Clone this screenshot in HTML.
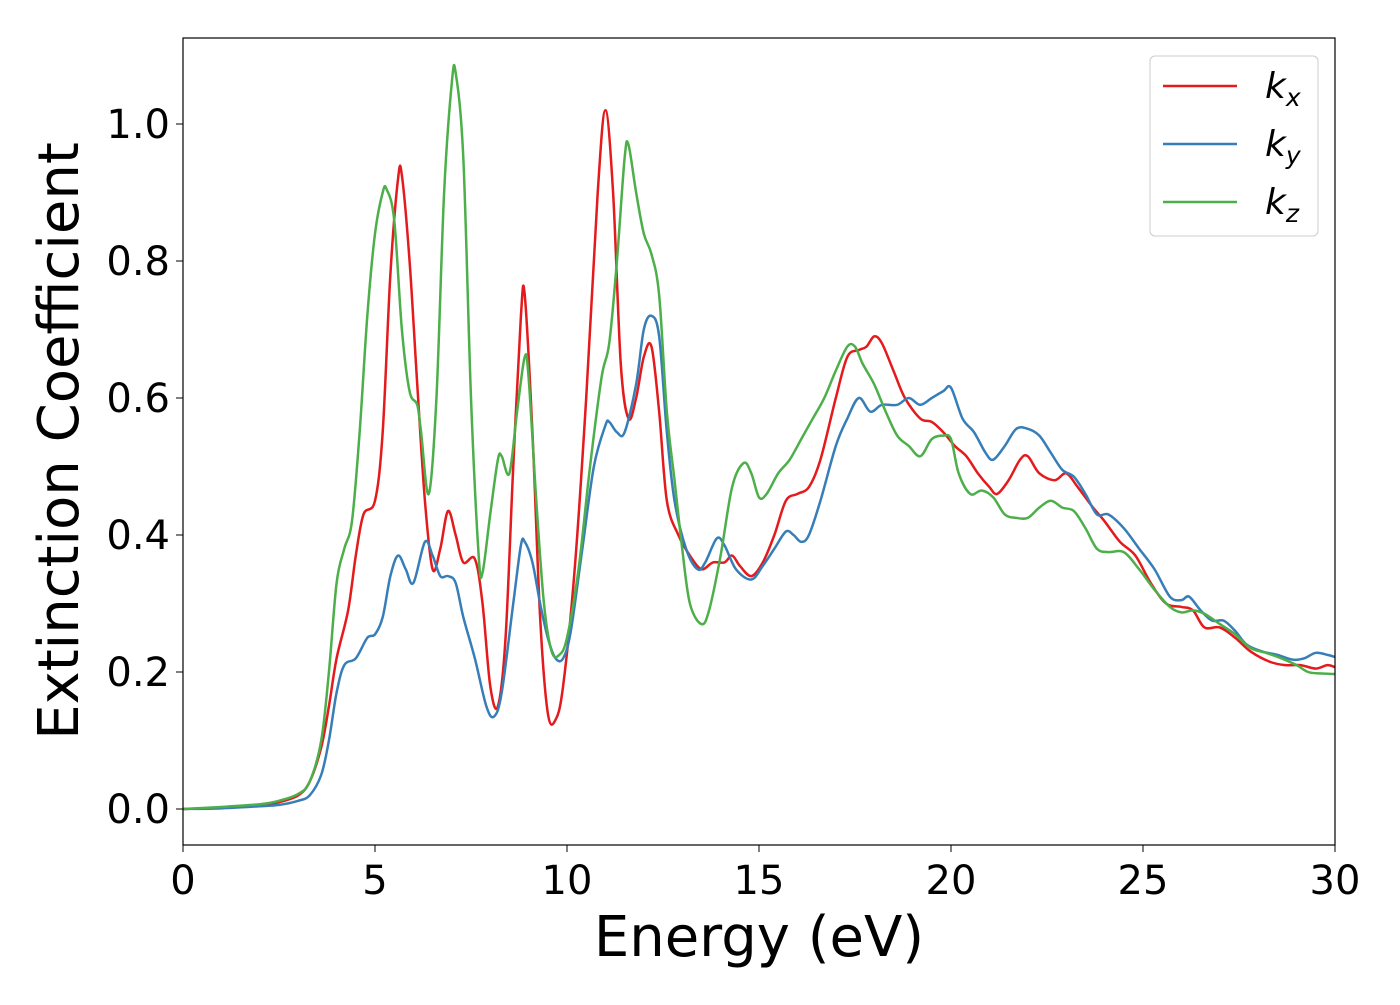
<!DOCTYPE html>
<html><head><meta charset="utf-8"><style>
body{margin:0;background:#fff;}
svg text{font-family:"DejaVu Sans","Liberation Sans",sans-serif;}
</style></head><body>
<svg id="chart" width="1400" height="1000" viewBox="0 0 1400 1000" xmlns="http://www.w3.org/2000/svg">
<g id="series"></g>
<rect x="183" y="38" width="1152" height="807" fill="none" stroke="#000" stroke-width="1.2"/>
<g id="axes"></g>
<text x="759" y="956" font-size="56" text-anchor="middle">Energy (eV)</text>
<text transform="translate(78,441) rotate(-90)" font-size="56" text-anchor="middle">Extinction Coefficient</text>
<g>
<rect x="1150" y="56" width="168" height="180" rx="5" fill="#fff" fill-opacity="0.8" stroke="#ccc"/>
<line x1="1163" x2="1237" y1="86" y2="86" stroke="#e41a1c" stroke-width="2.5"/>
<line x1="1163" x2="1237" y1="144" y2="144" stroke="#377eb8" stroke-width="2.5"/>
<line x1="1163" x2="1237" y1="202" y2="202" stroke="#4daf4a" stroke-width="2.5"/>
<text x="1265" y="98" font-size="36" font-style="italic">k<tspan font-size="25" dy="8">x</tspan></text>
<text x="1265" y="156" font-size="36" font-style="italic">k<tspan font-size="25" dy="8">y</tspan></text>
<text x="1265" y="214" font-size="36" font-style="italic">k<tspan font-size="25" dy="8">z</tspan></text>
</g>
</svg>
<script>
const xTicks=[0,5,10,15,20,25,30];
const yTicks=[0.0,0.2,0.4,0.6,0.8,1.0];
const yTickLabels=["0.0","0.2","0.4","0.6","0.8","1.0"];
const kxE=[0,1,2,2.5,3,3.3,3.6,3.8,4.0,4.3,4.5,4.7,5.0,5.2,5.4,5.6,5.7,5.9,6.1,6.3,6.5,6.7,6.9,7.1,7.3,7.6,7.8,8.0,8.2,8.4,8.6,8.8,8.9,9.1,9.3,9.5,9.7,9.9,10.2,10.5,10.8,11.0,11.2,11.4,11.6,11.8,12.0,12.2,12.4,12.6,12.9,13.2,13.5,13.8,14.1,14.3,14.5,14.8,15.1,15.4,15.7,16.0,16.3,16.6,17.0,17.3,17.6,17.8,18.0,18.2,18.5,18.8,19.2,19.5,19.8,20.1,20.4,20.7,21.0,21.2,21.5,21.8,22.0,22.3,22.7,23.0,23.3,23.7,24.0,24.4,24.8,25.2,25.6,26.0,26.3,26.6,27.0,27.4,27.8,28.3,28.7,29.1,29.5,29.8,30];
const kxV=[0,0.002,0.006,0.01,0.02,0.04,0.09,0.15,0.22,0.29,0.37,0.43,0.45,0.55,0.78,0.92,0.925,0.8,0.62,0.45,0.35,0.38,0.435,0.40,0.36,0.365,0.30,0.18,0.15,0.25,0.50,0.72,0.75,0.55,0.28,0.14,0.13,0.18,0.35,0.6,0.9,1.02,0.9,0.65,0.57,0.6,0.66,0.675,0.58,0.45,0.4,0.37,0.35,0.36,0.36,0.37,0.355,0.34,0.36,0.40,0.45,0.46,0.47,0.51,0.6,0.66,0.67,0.675,0.69,0.68,0.64,0.6,0.57,0.565,0.55,0.53,0.515,0.49,0.47,0.46,0.48,0.51,0.515,0.49,0.48,0.49,0.47,0.44,0.42,0.39,0.37,0.33,0.3,0.295,0.29,0.265,0.265,0.25,0.23,0.215,0.21,0.21,0.205,0.21,0.207];
const kyE=[0,1,2,2.5,3,3.3,3.6,3.8,4.0,4.2,4.5,4.8,5.0,5.2,5.4,5.6,5.8,6.0,6.3,6.5,6.7,6.9,7.1,7.3,7.6,7.9,8.1,8.3,8.6,8.8,8.9,9.1,9.3,9.5,9.7,9.9,10.1,10.4,10.7,11.0,11.1,11.3,11.5,11.8,12.0,12.2,12.4,12.6,12.8,13.1,13.4,13.6,13.9,14.1,14.4,14.8,15.1,15.4,15.7,15.9,16.1,16.3,16.6,17.0,17.3,17.6,17.9,18.2,18.6,18.9,19.2,19.5,19.8,20.0,20.3,20.6,20.9,21.1,21.4,21.7,22.0,22.3,22.6,22.9,23.2,23.5,23.8,24.1,24.5,24.9,25.3,25.7,26.0,26.2,26.5,26.8,27.1,27.4,27.7,28.1,28.5,28.9,29.2,29.5,29.8,30];
const kyV=[0,0.001,0.004,0.006,0.012,0.02,0.05,0.1,0.17,0.21,0.22,0.25,0.255,0.28,0.34,0.37,0.35,0.33,0.39,0.37,0.34,0.34,0.33,0.28,0.22,0.15,0.135,0.17,0.3,0.385,0.39,0.36,0.3,0.25,0.22,0.22,0.26,0.38,0.5,0.56,0.565,0.55,0.55,0.62,0.7,0.72,0.69,0.55,0.45,0.38,0.35,0.36,0.395,0.385,0.35,0.335,0.355,0.38,0.405,0.40,0.39,0.4,0.45,0.53,0.57,0.6,0.58,0.59,0.59,0.6,0.59,0.6,0.61,0.615,0.57,0.55,0.52,0.51,0.53,0.555,0.555,0.545,0.52,0.495,0.485,0.46,0.43,0.43,0.41,0.38,0.35,0.31,0.305,0.31,0.29,0.275,0.275,0.26,0.24,0.23,0.225,0.218,0.22,0.228,0.225,0.222];
const kzE=[0,1,2,2.5,3,3.3,3.6,3.8,4.0,4.2,4.4,4.6,4.8,5.0,5.2,5.3,5.5,5.7,5.9,6.1,6.2,6.4,6.6,6.8,7.0,7.1,7.3,7.5,7.7,7.8,8.0,8.2,8.3,8.5,8.7,8.9,9.0,9.2,9.4,9.6,9.8,10.0,10.3,10.6,10.9,11.1,11.3,11.5,11.6,11.8,12.0,12.2,12.4,12.6,12.8,13.0,13.2,13.5,13.7,14.0,14.3,14.6,14.8,15.0,15.2,15.5,15.8,16.1,16.4,16.7,17.0,17.3,17.5,17.7,18.0,18.3,18.6,18.9,19.2,19.5,19.8,20.0,20.2,20.5,20.8,21.1,21.4,21.7,22.0,22.3,22.6,22.9,23.2,23.5,23.8,24.1,24.5,24.9,25.3,25.7,26.0,26.3,26.6,27.0,27.4,27.8,28.2,28.6,29.0,29.3,29.6,30];
const kzV=[0,0.003,0.007,0.012,0.022,0.04,0.1,0.2,0.33,0.38,0.42,0.55,0.72,0.84,0.9,0.905,0.86,0.7,0.61,0.59,0.55,0.46,0.6,0.9,1.06,1.075,0.95,0.6,0.37,0.345,0.43,0.51,0.515,0.49,0.58,0.66,0.63,0.45,0.3,0.23,0.225,0.25,0.35,0.5,0.63,0.68,0.8,0.95,0.97,0.9,0.84,0.81,0.75,0.58,0.48,0.38,0.3,0.27,0.29,0.37,0.47,0.505,0.49,0.455,0.46,0.49,0.51,0.54,0.57,0.6,0.64,0.675,0.675,0.65,0.62,0.58,0.545,0.53,0.515,0.54,0.545,0.54,0.49,0.46,0.465,0.455,0.43,0.425,0.425,0.44,0.45,0.44,0.435,0.41,0.38,0.375,0.375,0.35,0.32,0.295,0.287,0.29,0.285,0.27,0.255,0.235,0.228,0.22,0.21,0.2,0.198,0.197];

const NS="http://www.w3.org/2000/svg";
const X0=183,X1=1335,Y0=809,YS=685;
const sx=e=>X0+(e/30)*(X1-X0);
const sy=v=>Y0-v*YS;
const axes=document.getElementById('axes');
xTicks.forEach(t=>{
  const l=document.createElementNS(NS,'line');
  
  
  l.setAttribute('x1',sx(t));l.setAttribute('x2',sx(t));l.setAttribute('y1',845);l.setAttribute('y2',852);l.setAttribute('stroke','#000');
  axes.appendChild(l);
  const tx=document.createElementNS(NS,'text');
  
  
  tx.setAttribute('x',sx(t));tx.setAttribute('y',894);tx.setAttribute('font-size','40');tx.setAttribute('text-anchor','middle');
  tx.textContent=t;axes.appendChild(tx);
});
yTicks.forEach((t,i)=>{
  const l=document.createElementNS(NS,'line');
  
  
  l.setAttribute('x1',176);l.setAttribute('x2',183);l.setAttribute('y1',sy(t));l.setAttribute('y2',sy(t));l.setAttribute('stroke','#000');
  axes.appendChild(l);
  const tx=document.createElementNS(NS,'text');
  
  
  tx.setAttribute('x',170);tx.setAttribute('y',sy(t)+14);tx.setAttribute('font-size','40');tx.setAttribute('text-anchor','end');
  tx.textContent=yTickLabels[i];axes.appendChild(tx);
});
function path(E,V){
  const p=E.map((e,i)=>[sx(e),sy(V[i])]);
  let d='M'+p[0][0]+','+p[0][1];
  for(let i=0;i<p.length-1;i++){
    const a=p[Math.max(i-1,0)],b=p[i],c=p[i+1],n=p[Math.min(i+2,p.length-1)];
    const c1=[b[0]+(c[0]-a[0])/6,b[1]+(c[1]-a[1])/6],c2=[c[0]-(n[0]-b[0])/6,c[1]-(n[1]-b[1])/6];
    d+=` C${c1[0]},${c1[1]} ${c2[0]},${c2[1]} ${c[0]},${c[1]}`;
  }
  return d;
}
const g=document.getElementById('series');
[[kxE,kxV,'#e41a1c','series-kx'],[kyE,kyV,'#377eb8','series-ky'],[kzE,kzV,'#4daf4a','series-kz']].forEach(s=>{
  const pa=document.createElementNS(NS,'path');
  
  
  pa.setAttribute('d',path(s[0],s[1]));pa.setAttribute('fill','none');pa.setAttribute('stroke',s[2]);pa.setAttribute('stroke-width','2.5');
  g.appendChild(pa);
});
</script>
</body></html>
